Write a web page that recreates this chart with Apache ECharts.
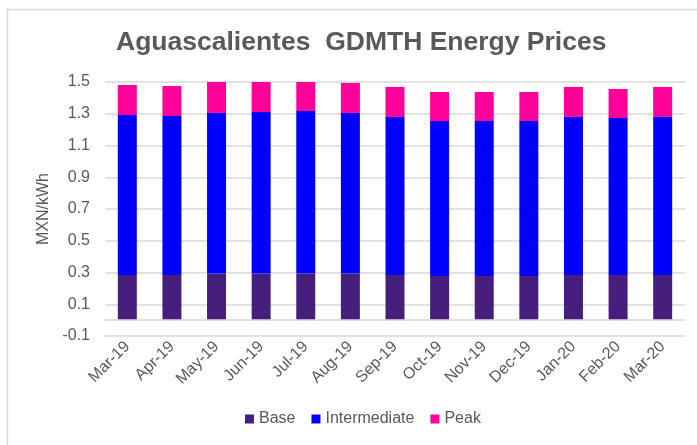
<!DOCTYPE html>
<html>
<head>
<meta charset="utf-8">
<script src="https://cdn.jsdelivr.net/npm/echarts@6/dist/echarts.min.js"></script>
<style>
  html, body { margin: 0; padding: 0; background: #fff; }
  #chart { width: 697px; height: 445px; }
</style>
</head>
<body>
<div id="chart"></div>
<script>
// months on the x axis
const months = ['Mar-19', 'Apr-19', 'May-19', 'Jun-19', 'Jul-19', 'Aug-19', 'Sep-19',
  'Oct-19', 'Nov-19', 'Dec-19', 'Jan-20', 'Feb-20', 'Mar-20'];

// stacked segments, MXN/kWh
const base = [0.285, 0.285, 0.293, 0.293, 0.293, 0.293, 0.285, 0.278, 0.278, 0.278, 0.285, 0.285, 0.285];
const intermediate = [1.007, 1.001, 1.012, 1.018, 1.024, 1.012, 0.995, 0.976, 0.976, 0.976, 0.995, 0.988, 0.995];
const peak = [0.189, 0.189, 0.195, 0.195, 0.189, 0.189, 0.189, 0.183, 0.183, 0.183, 0.189, 0.183, 0.189];

const yTicks = [-0.1, 0.1, 0.3, 0.5, 0.7, 0.9, 1.1, 1.3, 1.5];

const textColor = '#595959';
const font = '"Liberation Sans", Arial, sans-serif';

const chart = echarts.init(document.getElementById('chart'));

const barSeries = (name, data, color) => ({
  name: name,
  type: 'bar',
  stack: 'total',
  data: data,
  barWidth: 19,
  itemStyle: { color: color },
  silent: true
});

const series = [
  barSeries('Base', base, '#461f7c'),
  barSeries('Intermediate', intermediate, '#0000ff'),
  barSeries('Peak', peak, '#ff0099')
];
// grey line at zero, like the category axis in the original
series[0].markLine = {
  silent: true,
  symbol: 'none',
  label: { show: false },
  lineStyle: { color: '#d9d9d9', type: 'solid', width: 1.5 },
  data: [{ yAxis: 0 }]
};

chart.setOption({
  animation: false,
  backgroundColor: '#fff',
  graphic: [{
    type: 'rect',
    shape: { x: 7.5, y: 9.5, width: 720, height: 460 },
    style: { fill: 'none', stroke: '#d9d9d9', lineWidth: 1.5 },
    silent: true
  }],
  title: {
    text: 'Aguascalientes  GDMTH Energy Prices',
    left: 111,
    top: 24,
    textStyle: { color: textColor, fontSize: 26.5, fontWeight: 'bold', fontFamily: font }
  },
  legend: {
    bottom: 13,
    left: 240,
    itemWidth: 9,
    itemHeight: 9,
    itemGap: 16,
    icon: 'rect',
    textStyle: { color: textColor, fontSize: 16, fontFamily: font }
  },
  grid: { left: 105, right: 12, top: 82, bottom: 109 },
  xAxis: {
    type: 'category',
    data: months,
    axisLine: { onZero: false, show: false },
    axisTick: { show: false },
    axisLabel: { rotate: 45, color: textColor, fontSize: 16, fontFamily: font, margin: 8, interval: 0 }
  },
  yAxis: {
    type: 'value',
    min: yTicks[0],
    max: yTicks[yTicks.length - 1],
    interval: 0.2,
    name: 'MXN/kWh',
    nameLocation: 'middle',
    nameGap: 53,
    nameTextStyle: { color: textColor, fontSize: 16, fontFamily: font },
    axisLine: { show: false },
    axisTick: { show: false },
    axisLabel: {
      color: textColor, fontSize: 16, fontFamily: font, margin: 15,
      formatter: v => v.toFixed(1)
    },
    splitLine: { lineStyle: { color: '#d9d9d9', width: 1.5 } }
  },
  series: series
});
</script>
</body>
</html>
